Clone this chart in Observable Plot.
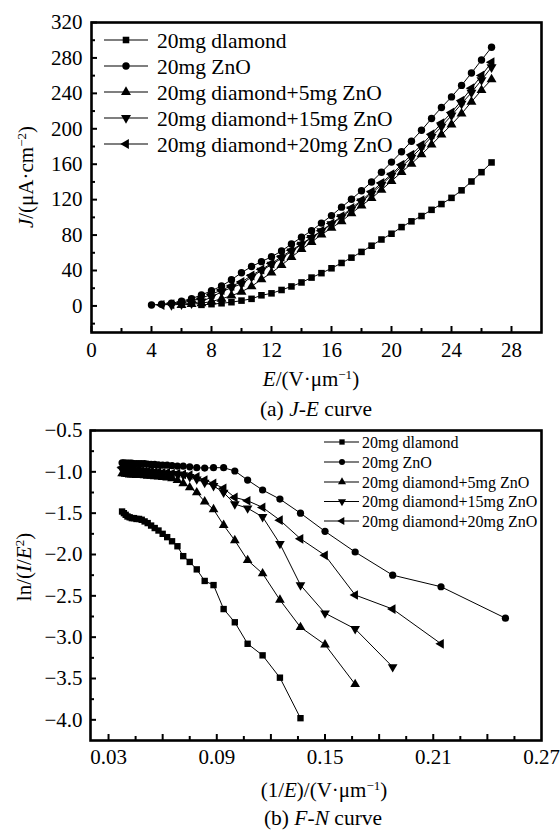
<!DOCTYPE html>
<html><head><meta charset="utf-8">
<script src="https://cdn.jsdelivr.net/npm/d3@7"></script>
<script src="https://cdn.jsdelivr.net/npm/@observablehq/plot@0.6"></script>
<style>
body{margin:0;background:#fff;}
#wrap{position:relative;width:560px;height:832px;font-family:"Liberation Serif", serif;color:#000;overflow:hidden;background:#fff}
.abs{position:absolute;white-space:nowrap;line-height:1;transform:translate(-50%,-50%)}
.rot{transform:translate(-50%,-50%) rotate(-90deg)}
.sup{font-size:0.62em;position:relative;top:-0.55em}
svg{display:block}
</style></head><body><div id="wrap"></div>
<script>
// ---------- data ----------
const seriesNames = ["20mg dlamond","20mg ZnO","20mg diamond+5mg ZnO","20mg diamond+15mg ZnO","20mg diamond+20mg ZnO"];

// (a) J-E curve: field E (V/um) and current density J (uA/cm2)
const E = [4, 4.67, 5.33, 6, 6.67, 7.33, 8, 8.67, 9.33, 10, 10.67, 11.33, 12, 12.67, 13.33, 14, 14.67, 15.33, 16, 16.67, 17.33, 18, 18.67, 19.33, 20, 20.67, 21.33, 22, 22.67, 23.33, 24, 24.67, 25.33, 26, 26.67];
const J_diamond = [null,null,null,null,null, 1.2, 2.0, 3.0, 4.2, 6.0, 8.0, 12, 14.2, 18, 22, 26.5, 32, 37, 42.5, 48.5, 54.5, 61, 68, 75, 81.5, 89, 95.5, 101.5, 108.5, 115, 122, 130.5, 140.5, 151, 162];
const J_ZnO = [1.0, 2.0, 3.0, 5.3, 8.3, 12.3, 17.2, 22.5, 29.5, 37.5, 44.5, 50, 55.5, 62, 70, 77.5, 85, 93.5, 102, 111.5, 120.5, 130, 140, 151, 162.4, 174, 186, 198.3, 211.6, 224, 236, 249, 263, 277.6, 292];
const J_d5 = [null,null,null, 1.0, 2.0, 3.0, 5.0, 8.0, 11.5, 16, 22, 30, 37.5, 46, 55, 64, 72, 80.5, 88, 95.5, 104.6, 113.3, 121.6, 131, 141, 151, 160.5, 171, 182, 193.4, 204.7, 217, 230.4, 243.6, 255.7];
const J_d15 = [null,null, 1.0, 2.0, 3.0, 5.0, 9.9, 16, 20.6, 24.9, 32.6, 39.9, 46.5, 53.9, 61.6, 69.3, 76.8, 84.4, 92.3, 100.2, 108.9, 118, 126.9, 136.8, 147.2, 157.1, 167.4, 178.9, 190.9, 202.3, 215.1, 228.3, 240.9, 255, 269.6];
const J_d20 = [null, 1.0, 2.0, 3.0, 5.95, 8.8, 13.1, 18, 22.6, 27, 34.3, 41.1, 47.9, 55.6, 62.8, 70, 77.6, 84.8, 93.2, 101.2, 110.5, 119.2, 128.8, 138.9, 148.6, 159.5, 170.8, 181.7, 193.8, 206.4, 218.4, 231.8, 245.7, 260.1, 275];

// (b) F-N curve: 1/E and ln(I/E^2)
const invE = [0.25, 0.2143, 0.1875, 0.1667, 0.15, 0.1364, 0.125, 0.1154, 0.1071, 0.1, 0.0938, 0.0882, 0.0833, 0.0789, 0.075, 0.0714, 0.0682, 0.0652, 0.0625, 0.06, 0.0577, 0.0556, 0.0536, 0.0517, 0.05, 0.0484, 0.0469, 0.0455, 0.0441, 0.0429, 0.0417, 0.0405, 0.0395, 0.0385, 0.0375];
const L_diamond = [null,null,null,null,null, -3.98, -3.49, -3.22, -3.08, -2.82, -2.66, -2.37, -2.32, -2.18, -2.09, -2.02, -1.90, -1.84, -1.79, -1.75, -1.71, -1.68, -1.65, -1.62, -1.60, -1.58, -1.57, -1.57, -1.56, -1.56, -1.55, -1.54, -1.52, -1.50, -1.48];
const L_ZnO = [-2.77, -2.39, -2.25, -1.97, -1.72, -1.50, -1.33, -1.22, -1.10, -0.99, -0.95, -0.95, -0.955, -0.95, -0.94, -0.93, -0.93, -0.925, -0.92, -0.92, -0.915, -0.91, -0.91, -0.905, -0.90, -0.90, -0.90, -0.90, -0.90, -0.895, -0.895, -0.895, -0.895, -0.89, -0.89];
const L_d5 = [null,null,null, -3.57, -3.09, -2.88, -2.55, -2.23, -2.07, -1.83, -1.645, -1.455, -1.36, -1.25, -1.19, -1.14, -1.10, -1.08, -1.07, -1.065, -1.06, -1.055, -1.05, -1.05, -1.045, -1.04, -1.04, -1.04, -1.035, -1.035, -1.035, -1.03, -1.025, -1.02, -1.02];
const L_d15 = [null,null, -3.36, -2.90, -2.71, -2.37, -1.87, -1.545, -1.44, -1.39, -1.25, -1.17, -1.13, -1.09, -1.06, -1.04, -1.03, -1.025, -1.02, -1.02, -1.015, -1.01, -1.01, -1.005, -1.00, -1.00, -1.00, -0.995, -0.99, -0.99, -0.985, -0.98, -0.98, -0.975, -0.97];
const L_d20 = [null, -3.08, -2.66, -2.49, -2.01, -1.81, -1.585, -1.43, -1.35, -1.31, -1.20, -1.14, -1.10, -1.06, -1.04, -1.03, -1.02, -1.02, -1.01, -1.01, -1.00, -1.00, -0.995, -0.99, -0.99, -0.985, -0.98, -0.98, -0.975, -0.97, -0.97, -0.965, -0.96, -0.955, -0.95];

// tick values
const xMajA = [0,4,8,12,16,20,24,28], xMinA = [2,6,10,14,18,22,26];
const yMajA = [0,40,80,120,160,200,240,280,320], yMinA = [-20,20,60,100,140,180,220,260,300];
const xLabB = [0.03,0.09,0.15,0.21,0.27], xMajB = [0.03,0.06,0.09,0.12,0.15,0.18,0.21,0.24], xMinB = [0.045,0.075,0.105,0.135,0.165,0.195,0.225,0.255];
const yMajB = [-0.5,-1.0,-1.5,-2.0,-2.5,-3.0,-3.5,-4.0], yMinB = [-0.75,-1.25,-1.75,-2.25,-2.75,-3.25,-3.75];

// ---------- symbols ----------
function triDims(size){ const s = Math.sqrt(4*size/Math.sqrt(3)); return [s, s*Math.sqrt(3)/2]; }
const triDown = {draw(ctx,size){ const [s,h]=triDims(size); ctx.moveTo(0,2*h/3); ctx.lineTo(-s/2,-h/3); ctx.lineTo(s/2,-h/3); ctx.closePath(); }};
const triUp = {draw(ctx,size){ const [s,h]=triDims(size); ctx.moveTo(0,-2*h/3); ctx.lineTo(s/2,h/3); ctx.lineTo(-s/2,h/3); ctx.closePath(); }};
const triLeft = {draw(ctx,size){ const [s,h]=triDims(size); ctx.moveTo(-2*h/3,0); ctx.lineTo(h/3,-s/2); ctx.lineTo(h/3,s/2); ctx.closePath(); }};
const symbols = [d3.symbolSquare, d3.symbolCircle, triUp, triDown, triLeft];

const FONT = '"Liberation Serif", serif';
const wrap = document.getElementById("wrap");

function rows(xs, ys){ return xs.map((x,i)=>({x, y: ys[i]})).filter(d=>d.y!=null); }

function seriesMarks(xs, ysList, r){
  const m = [];
  ysList.forEach((ys,k)=>{
    const d = rows(xs, ys);
    m.push(Plot.line(d,{x:"x",y:"y",stroke:"#000",strokeWidth:1}));
    m.push(Plot.dot(d,{x:"x",y:"y",symbol:symbols[k],r,fill:"#000",stroke:"none"}));
  });
  return m;
}
function serifize(svg){
  svg.setAttribute("font-family", FONT);
  svg.style.fontFamily = FONT;
  svg.querySelectorAll("g, text").forEach(n=>{ n.style.fontFamily = FONT; });
}

// ---------- (a) J-E ----------
const WA = 560, HA = 370, mtA = 22, mbA = 38, mlA = 91, mrA = 19;
const FWA = WA-mlA-mrA, FHA = HA-mtA-mbA;
const plotA = Plot.plot({
  width: WA, height: HA, marginTop: mtA, marginBottom: mbA, marginLeft: mlA, marginRight: mrA,
  style: {fontFamily: FONT, fontSize: "21px", color: "#000", background: "transparent", overflow: "visible"},
  x: {domain: [0,30], label: null},
  y: {domain: [-30,320], label: null},
  marks: [
    Plot.axisX({ticks: xMajA, tickSize: 0, tickPadding: 10, label: null, fontFamily: "Liberation Serif", tickFormat: d=>String(d)}),
    Plot.axisY({ticks: yMajA, tickSize: 0, tickPadding: 9, label: null, fontFamily: "Liberation Serif", tickFormat: d=>String(d)}),
    Plot.tickX(xMajA, {x: d=>d, insetTop: FHA-6, stroke:"#000", strokeWidth: 2}),
    Plot.tickX(xMinA, {x: d=>d, insetTop: FHA-4, stroke:"#000", strokeWidth: 2}),
    Plot.tickY(yMajA, {y: d=>d, insetRight: FWA-6, stroke:"#000", strokeWidth: 2}),
    Plot.tickY(yMinA, {y: d=>d, insetRight: FWA-4, stroke:"#000", strokeWidth: 2}),
    ...seriesMarks(E, [J_diamond, J_ZnO, J_d5, J_d15, J_d20], 3.7),
    Plot.frame({stroke:"#000", strokeWidth: 2.6})
  ]
});
serifize(plotA);
plotA.style.position = "absolute"; plotA.style.left = "0px"; plotA.style.top = "0px";
wrap.appendChild(plotA);

// ---------- (b) F-N ----------
const WB = 560, HB = 370, topB = 400, mtB = 30, mbB = 30, mlB = 90, mrB = 19;
const FWB = WB-mlB-mrB, FHB = HB-mtB-mbB;
const fmtNeg = d => (d<0?"\u2212":"") + Math.abs(d).toFixed(1);
const plotB = Plot.plot({
  width: WB, height: HB, marginTop: mtB, marginBottom: mbB, marginLeft: mlB, marginRight: mrB,
  style: {fontFamily: FONT, fontSize: "21px", color: "#000", background: "transparent", overflow: "visible"},
  x: {domain: [0.02,0.27], label: null},
  y: {domain: [-4.25,-0.5], label: null},
  marks: [
    Plot.axisX({ticks: xLabB, tickSize: 0, tickPadding: 9, label: null, fontFamily: "Liberation Serif", tickFormat: d=>d.toFixed(2)}),
    Plot.axisY({ticks: yMajB, tickSize: 0, tickPadding: 8, label: null, fontFamily: "Liberation Serif", tickFormat: fmtNeg}),
    Plot.tickX(xMajB, {x: d=>d, insetTop: FHB-6, stroke:"#000", strokeWidth: 2}),
    Plot.tickX(xMinB, {x: d=>d, insetTop: FHB-4, stroke:"#000", strokeWidth: 2}),
    Plot.tickY(yMajB, {y: d=>d, insetRight: FWB-6, stroke:"#000", strokeWidth: 2}),
    Plot.tickY(yMinB, {y: d=>d, insetRight: FWB-4, stroke:"#000", strokeWidth: 2}),
    ...seriesMarks(invE, [L_diamond, L_ZnO, L_d5, L_d15, L_d20], 3.6),
    Plot.frame({stroke:"#000", strokeWidth: 2.6})
  ]
});
serifize(plotB);
plotB.style.position = "absolute"; plotB.style.left = "0px"; plotB.style.top = topB + "px";
wrap.appendChild(plotB);

// ---------- legends (overlay) ----------
const ov = d3.create("svg").attr("width",560).attr("height",832)
  .style("position","absolute").style("left","0px").style("top","0px").style("pointer-events","none");
function legend(g, x0, x1, xm, xt, ys, fs, r){
  seriesNames.forEach((name,k)=>{
    const y = ys[k];
    g.append("line").attr("x1",x0).attr("x2",x1).attr("y1",y).attr("y2",y).attr("stroke","#000").attr("stroke-width",1.2);
    g.append("path").attr("transform",`translate(${xm},${y})`).attr("d", d3.symbol(symbols[k], Math.PI*r*r)()).attr("fill","#000");
    g.append("text").attr("x",xt).attr("y",y).attr("dy","0.35em").style("font-family","Liberation Serif").style("font-size",fs+"px").attr("fill","#000").text(name);
  });
}
legend(ov.append("g"), 104, 148, 126, 157, [40,66,92,118,144], 21.5, 3.7);
legend(ov.append("g"), 324, 359, 342, 362, [442,462,482,501.5,521], 16, 3.0);
wrap.appendChild(ov.node());

// ---------- titles & captions ----------
function addText(html, cx, cy, fs, rot){
  const d = document.createElement("div");
  d.className = "abs" + (rot ? " rot" : "");
  d.style.left = cx + "px"; d.style.top = cy + "px"; d.style.fontSize = fs + "px";
  d.innerHTML = html; wrap.appendChild(d);
}
addText('<i>J</i>/(μA·cm<span class="sup">−2</span>)', 26, 177, 21, true);
addText('<i>E</i>/(V·μm<span class="sup">−1</span>)', 311, 379, 21, false);
addText('(a) <i>J</i>-<i>E</i> curve', 316, 410, 21.5, false);
addText('ln/(<i>I</i>/<i>E</i><span class="sup">2</span>)', 24, 567, 21, true);
addText('(1/<i>E</i>)/(V·μm<span class="sup">−1</span>)', 324, 790, 21, false);
addText('(b) <i>F</i>-<i>N</i> curve', 323, 819, 21.5, false);
</script>
</body></html>
